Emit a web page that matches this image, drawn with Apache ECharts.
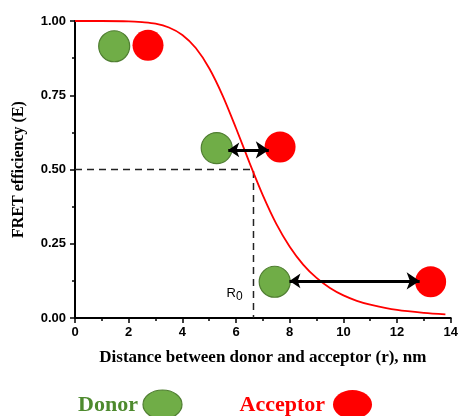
<!DOCTYPE html>
<html>
<head>
<meta charset="utf-8">
<script src="https://cdn.jsdelivr.net/npm/echarts@6/dist/echarts.min.js"></script>
<style>
  html, body { margin: 0; padding: 0; background: #fff; }
  #chart { width: 461px; height: 416px; }
</style>
</head>
<body>
<div id="chart"></div>
<script>
// FRET efficiency E as a function of donor–acceptor distance r (nm)
const distance = [0, 1, 2, 2.5, 3, 3.5, 4, 4.5, 5, 5.5, 6, 6.5, 7, 7.5, 8, 8.5, 9, 9.5, 10, 10.5, 11, 12, 13, 13.8];
const efficiency = [1.000, 1.000, 0.999, 0.996, 0.991, 0.978, 0.953, 0.909, 0.841, 0.749, 0.639, 0.523, 0.413, 0.317, 0.240, 0.180, 0.135, 0.101, 0.076, 0.058, 0.045, 0.027, 0.017, 0.012];

// Förster radius R0, where E drops to one half
const forsterRadius = 6.65;
const halfEfficiency = 0.5;

// Donor / acceptor pairs drawn at growing separations
const donorX = [1.46, 5.28, 7.44];
const donorY = [0.915, 0.572, 0.122];
const acceptorX = [2.72, 7.64, 13.25];
const acceptorY = [0.918, 0.576, 0.122];

// Double-headed arrows between the separated pairs
const arrowStartX = [5.71, 7.99];
const arrowEndX = [7.22, 12.84];
const arrowY = [0.566, 0.125];

// Anchor of the "R0" label
const r0LabelX = 5.64;
const r0LabelY = 0.084;

// Key below the plot
const keyNames = ['Donor', 'Acceptor'];

const yTickDigits = 2;

const GREEN = '#70AD47';
const GREEN_EDGE = '#507E32';
const GREEN_TEXT = '#4E8A2E';
const RED = '#FF0000';

const curveData = distance.map((r, i) => [r, efficiency[i]]);
const donorData = donorX.map((x, i) => [x, donorY[i]]);
const acceptorData = acceptorX.map((x, i) => [x, acceptorY[i]]);
const arrowData = arrowStartX.map((x, i) => ({ coords: [[x, arrowY[i]], [arrowEndX[i], arrowY[i]]] }));
const guideData = [[0, halfEfficiency], [forsterRadius, halfEfficiency], [forsterRadius, 0]];

const SANS = 'Liberation Sans, Arial, sans-serif';
const SERIF = 'Liberation Serif, Times New Roman, serif';
const sansBold = { fontFamily: SANS, fontWeight: 'bold', fontSize: 13, color: '#000' };
const serifBold = { fontFamily: SERIF, fontWeight: 'bold', color: '#000' };

const axisCommon = {
  type: 'value',
  axisLine: { show: true, onZero: false, lineStyle: { color: '#000', width: 2 } },
  axisTick: { show: true, length: 5, lineStyle: { color: '#000', width: 1.5 } },
  minorTick: { show: true, splitNumber: 2, length: 3, lineStyle: { color: '#000', width: 1.5 } },
  splitLine: { show: false },
  minorSplitLine: { show: false }
};

const chart = echarts.init(document.getElementById('chart'), null, { renderer: 'canvas' });

chart.setOption({
  animation: false,
  backgroundColor: '#fff',
  grid: { left: 75, right: 7, top: 21, bottom: 98, containLabel: false },
  xAxis: Object.assign({}, axisCommon, {
    min: 0, max: 14, interval: 2,
    name: 'Distance between donor and acceptor (r), nm',
    nameLocation: 'middle', nameGap: 31,
    nameTextStyle: Object.assign({}, serifBold, { fontSize: 17 }),
    axisLabel: Object.assign({}, sansBold, { margin: 8 })
  }),
  yAxis: Object.assign({}, axisCommon, {
    min: 0, max: 1, interval: 0.25,
    name: 'FRET efficiency (E)',
    nameLocation: 'middle', nameGap: 48,
    nameTextStyle: Object.assign({}, serifBold, { fontSize: 16 }),
    axisLabel: Object.assign({}, sansBold, { margin: 9, formatter: v => v.toFixed(yTickDigits) })
  }),
  series: [
    {
      name: 'guide', type: 'line', data: guideData,
      showSymbol: false, symbol: 'none', silent: true, z: 1,
      lineStyle: { color: '#222', width: 1.5, type: [7, 5] }
    },
    {
      name: 'E(r)', type: 'line', data: curveData,
      smooth: 0.3, showSymbol: false, symbol: 'none', silent: true, z: 2,
      lineStyle: { color: RED, width: 1.8 }
    },
    {
      name: keyNames[0], type: 'scatter', data: donorData, symbol: 'circle', symbolSize: 31, z: 3,
      itemStyle: { color: GREEN, borderColor: GREEN_EDGE, borderWidth: 1.2, opacity: 1 }
    },
    {
      name: keyNames[1], type: 'scatter', data: acceptorData, symbol: 'circle', symbolSize: 31, z: 3,
      itemStyle: { color: RED, opacity: 1 }
    },
    {
      name: 'separation', type: 'lines', coordinateSystem: 'cartesian2d', data: arrowData,
      symbol: ['arrow', 'arrow'], symbolSize: [11, 13], silent: true, z: 5,
      lineStyle: { color: '#000', width: 3, opacity: 1 }
    }
  ]
});

// "R0" label beside the dashed Förster-radius marker, plus the key under the axis title
const p = chart.convertToPixel({ gridIndex: 0 }, [r0LabelX, r0LabelY]);
const keyFont = 'bold 22px ' + SERIF;
chart.setOption({
  graphic: [
    { type: 'text', x: p[0], y: p[1], silent: true,
      style: { text: 'R', font: '13px ' + SANS, fill: '#000', textAlign: 'left', textVerticalAlign: 'middle' } },
    { type: 'text', x: p[0] + 9.5, y: p[1] + 4, silent: true,
      style: { text: '0', font: '12px ' + SANS, fill: '#000', textAlign: 'left', textVerticalAlign: 'middle' } },

    { type: 'text', x: 138, y: 405, silent: true,
      style: { text: keyNames[0], font: keyFont, fill: GREEN_TEXT, textAlign: 'right', textVerticalAlign: 'middle' } },
    { type: 'ellipse', silent: true, shape: { cx: 162.5, cy: 404.5, rx: 19.5, ry: 14.5 },
      style: { fill: GREEN, stroke: GREEN_EDGE, lineWidth: 1.2 } },
    { type: 'text', x: 325, y: 405, silent: true,
      style: { text: keyNames[1], font: keyFont, fill: RED, textAlign: 'right', textVerticalAlign: 'middle' } },
    { type: 'ellipse', silent: true, shape: { cx: 352.5, cy: 404.5, rx: 19.5, ry: 14.5 },
      style: { fill: RED } }
  ]
});
</script>
</body>
</html>
